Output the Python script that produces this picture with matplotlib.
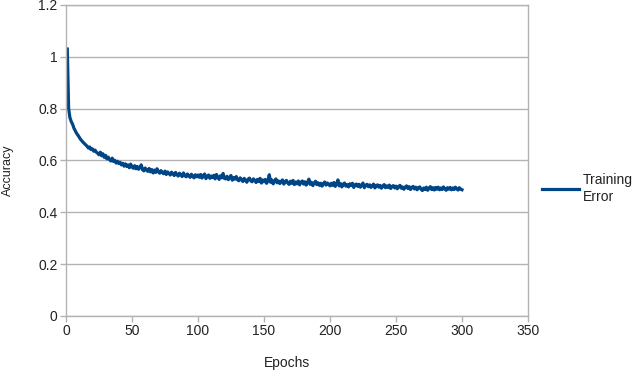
import numpy as np
import matplotlib
matplotlib.use('Agg')
import matplotlib.pyplot as plt
from matplotlib.ticker import FormatStrFormatter

plt.rcParams['font.family'] = ['Liberation Sans', 'DejaVu Sans']

# training error per epoch
epochs = np.arange(1, 301)
training_error = [
    1.03, 0.80, 0.765, 0.75, 0.74, 0.725, 0.715, 0.705, 0.698, 0.69,
    0.682, 0.676, 0.67, 0.665, 0.66, 0.655, 0.648, 0.652, 0.642, 0.645,
    0.636, 0.64, 0.632, 0.628, 0.622, 0.632, 0.618, 0.626, 0.612, 0.62,
    0.606, 0.613, 0.603, 0.598, 0.609, 0.596, 0.601, 0.59, 0.597, 0.588,
    0.593, 0.583, 0.589, 0.578, 0.587, 0.577, 0.583, 0.572, 0.586, 0.575,
    0.57, 0.58, 0.568, 0.577, 0.566, 0.573, 0.583, 0.564, 0.56, 0.571,
    0.563, 0.558, 0.569, 0.556, 0.565, 0.552, 0.563, 0.554, 0.568, 0.556,
    0.551, 0.561, 0.553, 0.549, 0.559, 0.546, 0.556, 0.55, 0.544, 0.555,
    0.548, 0.542, 0.554, 0.546, 0.54, 0.551, 0.544, 0.538, 0.552, 0.542,
    0.537, 0.548, 0.54, 0.535, 0.547, 0.539, 0.533, 0.545, 0.537, 0.544,
    0.535, 0.546, 0.532, 0.541, 0.548, 0.53, 0.539, 0.544, 0.531, 0.54,
    0.534, 0.543, 0.529, 0.546, 0.535, 0.527, 0.541, 0.533, 0.55, 0.531,
    0.529, 0.539, 0.526, 0.535, 0.542, 0.524, 0.534, 0.528, 0.538, 0.525,
    0.522, 0.533, 0.526, 0.519, 0.531, 0.524, 0.516, 0.528, 0.532, 0.521,
    0.518, 0.529, 0.523, 0.515, 0.527, 0.519, 0.531, 0.513, 0.525, 0.518,
    0.527, 0.512, 0.522, 0.545, 0.516, 0.525, 0.51, 0.52, 0.529, 0.514,
    0.521, 0.511, 0.519, 0.525, 0.509, 0.518, 0.523, 0.513, 0.508, 0.52,
    0.512, 0.523, 0.507, 0.517, 0.51, 0.521, 0.506, 0.516, 0.521, 0.509,
    0.518, 0.505, 0.515, 0.528, 0.508, 0.516, 0.503, 0.513, 0.52, 0.507,
    0.514, 0.504, 0.512, 0.501, 0.511, 0.517, 0.505, 0.513, 0.509, 0.502,
    0.512, 0.504, 0.515, 0.5, 0.509, 0.525, 0.502, 0.511, 0.498, 0.508,
    0.513, 0.501, 0.507, 0.498, 0.51, 0.503, 0.512, 0.496, 0.506, 0.509,
    0.5, 0.508, 0.497, 0.505, 0.513, 0.495, 0.504, 0.508, 0.499, 0.506,
    0.496, 0.503, 0.509, 0.494, 0.502, 0.506, 0.497, 0.504, 0.493, 0.501,
    0.507, 0.495, 0.502, 0.496, 0.505, 0.492, 0.5, 0.503, 0.494, 0.501,
    0.491, 0.499, 0.504, 0.493, 0.498, 0.489, 0.497, 0.502, 0.492, 0.499,
    0.488, 0.496, 0.5, 0.49, 0.497, 0.487, 0.495, 0.498, 0.489, 0.484,
    0.494, 0.488, 0.497, 0.485, 0.493, 0.499, 0.488, 0.495, 0.486, 0.496,
    0.489, 0.497, 0.487, 0.494, 0.488, 0.498, 0.49, 0.485, 0.495, 0.489,
    0.496, 0.487, 0.494, 0.488, 0.497, 0.49, 0.486, 0.495, 0.489, 0.487,
]
x_ticks = [0, 50, 100, 150, 200, 250, 300, 350]
y_ticks = [0, 0.2, 0.4, 0.6, 0.8, 1.0, 1.2]

grey = '#b3b3b3'
txt = '#222222'

fig = plt.figure(figsize=(6.4, 3.74), dpi=100)
ax = fig.add_axes([0.1031, 0.1551, 0.7219, 0.8316])

ax.plot(epochs, training_error, color='#004586', lw=2.3, label='Training\nError')

ax.set_xlim(0, 350)
ax.set_ylim(0, 1.2)
ax.set_xticks(x_ticks)
ax.set_yticks(y_ticks)
ax.yaxis.set_major_formatter(FormatStrFormatter('%g'))
ax.yaxis.grid(True, color=grey, lw=1)
ax.set_axisbelow(True)
for s in ax.spines.values():
    s.set_color(grey)
    s.set_linewidth(1)
ax.tick_params(colors=grey, labelcolor=txt, labelsize=10, length=4, width=1, pad=2)

ax.set_xlabel('Epochs', fontsize=10, color=txt)
ax.set_ylabel('Accuracy', fontsize=9, color=txt)
ax.xaxis.set_label_coords(0.478, -0.128)
ax.yaxis.set_label_coords(-0.112, 0.47)

leg = ax.legend(loc='center left', bbox_to_anchor=(1.03, 0.41), frameon=False,
                fontsize=10, handlelength=2.7, handletextpad=0.25, borderpad=0,
                borderaxespad=0, labelspacing=0)
for t in leg.get_texts():
    t.set_color(txt)
    t.set_linespacing(1.35)

fig.savefig('out.png', dpi=100)
